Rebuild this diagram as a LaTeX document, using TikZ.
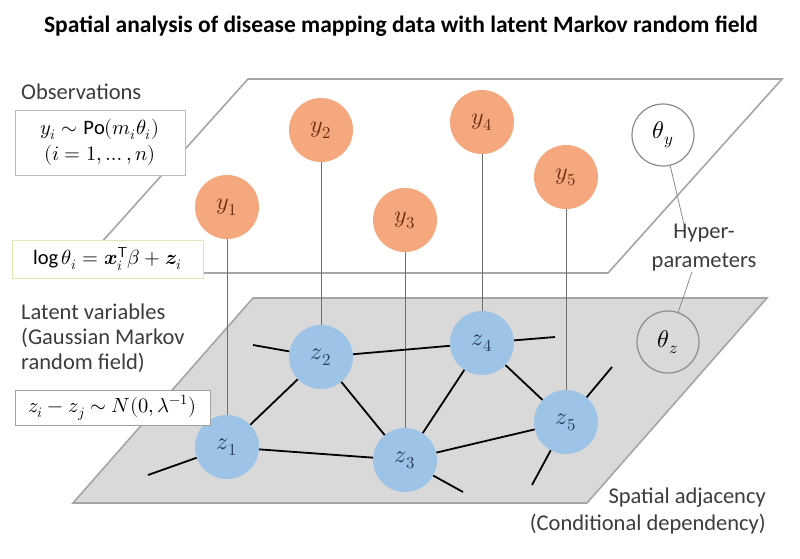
\documentclass[tikz,border=0pt]{standalone}
\usepackage{fontspec}
\usepackage{unicode-math}
\setmainfont{Carlito}
\setmathfont{Latin Modern Math}
\begin{document}
\begin{tikzpicture}[x=1pt, y=-1pt,
    ynode/.style={circle, fill=ycolor, minimum size=64pt, inner sep=0pt, text=ytext, font=\fontsize{24}{26}\selectfont},
    znode/.style={circle, fill=zcolor, minimum size=64pt, inner sep=0pt, text=ztext, font=\fontsize{24}{26}\selectfont},
    thetanode/.style={circle, draw=thetaline, line width=1.2pt, minimum size=62pt, inner sep=0pt, font=\fontsize{24}{26}\selectfont},
    labeltext/.style={inner sep=0pt, text=labelcolor, font=\fontsize{22.5}{25}\selectfont},
    formulabox/.style={draw, fill=white, line width=1pt, inner sep=0pt, align=center, font=\fontsize{20.5}{22}\selectfont},
    planeline/.style={draw=edgecolor, line width=1.6pt},
    linkline/.style={line width=1.8pt, black},
    dropline/.style={line width=1pt, dropcolor},
    hyperline/.style={line width=0.8pt, thetaline}
]
    % Define colors
    \definecolor{ycolor}{RGB}{245, 168, 125}
    \definecolor{zcolor}{RGB}{157, 195, 230}
    \definecolor{planecolor}{RGB}{217, 217, 217}
    \definecolor{edgecolor}{RGB}{165, 165, 165}
    \definecolor{thetaline}{RGB}{140, 140, 140}
    \definecolor{dropcolor}{RGB}{110, 110, 110}
    \definecolor{labelcolor}{RGB}{60, 60, 60}
    \definecolor{ytext}{RGB}{110, 45, 20}
    \definecolor{ztext}{RGB}{35, 60, 95}
    \definecolor{boxgray}{RGB}{160, 160, 160}
    \definecolor{boxyellow}{RGB}{230, 230, 180}

    % Picture size
    \useasboundingbox (0,0) rectangle (800,558);

    % Corners of the two planes
    \coordinate (topTL) at (248, 79);
    \coordinate (topTR) at (782, 79);
    \coordinate (topBR) at (608, 273);
    \coordinate (topBL) at (74, 273);
    \coordinate (botTL) at (253, 298);
    \coordinate (botTR) at (767, 298);
    \coordinate (botBR) at (587, 503);
    \coordinate (botBL) at (73, 503);

    % Observation plane and latent plane
    \filldraw[planeline, fill=white] (topTL) -- (topTR) -- (topBR) -- (topBL) -- cycle;
    \filldraw[planeline, fill=planecolor] (botTL) -- (botTR) -- (botBR) -- (botBL) -- cycle;

    % Title
    \node[font=\bfseries\fontsize{23.5}{26}\selectfont] (title) at (401, 26)
        {Spatial analysis of disease mapping data with latent Markov random field};

    % Observed nodes
    \node[ynode] (y1) at (227, 207) {$y_1$};
    \node[ynode] (y2) at (321, 130) {$y_2$};
    \node[ynode] (y3) at (405, 220) {$y_3$};
    \node[ynode] (y4) at (482, 122) {$y_4$};
    \node[ynode] (y5) at (566, 177) {$y_5$};

    % Latent nodes
    \node[znode] (z1) at (227, 447) {$z_1$};
    \node[znode] (z2) at (321, 357) {$z_2$};
    \node[znode] (z3) at (405, 460) {$z_3$};
    \node[znode] (z4) at (482, 343) {$z_4$};
    \node[znode] (z5) at (566, 422) {$z_5$};

    % Hyperparameters
    \node[thetanode, fill=white] (thetaY) at (663, 135) {$\theta_y$};
    \node[thetanode] (thetaZ) at (668, 342) {$\theta_z$};
    \node[labeltext, align=center, font=\fontsize{22.5}{29}\selectfont] (hyper) at (704, 248) {Hyper-\\parameters};

    % Loose ends of the adjacency graph
    \coordinate (z1out) at (148, 475);
    \coordinate (z2out) at (253, 345);
    \coordinate (z3out) at (463, 492);
    \coordinate (z4out) at (555, 337);
    \coordinate (z5outA) at (612, 367);
    \coordinate (z5outB) at (532, 485);

    % Drop lines from observations to latent variables
    \draw[dropline] (y1) -- (z1);
    \draw[dropline] (y2) -- (z2);
    \draw[dropline] (y3) -- (z3);
    \draw[dropline] (y4) -- (z4);
    \draw[dropline] (y5) -- (z5);

    % Spatial adjacency
    \draw[linkline] (z1) -- (z2);
    \draw[linkline] (z1) -- (z3);
    \draw[linkline] (z2) -- (z3);
    \draw[linkline] (z2) -- (z4);
    \draw[linkline] (z3) -- (z4);
    \draw[linkline] (z3) -- (z5);
    \draw[linkline] (z4) -- (z5);
    \draw[linkline] (z1) -- (z1out);
    \draw[linkline] (z2) -- (z2out);
    \draw[linkline] (z3) -- (z3out);
    \draw[linkline] (z4) -- (z4out);
    \draw[linkline] (z5) -- (z5outA);
    \draw[linkline] (z5) -- (z5outB);

    % Hyperparameter links
    \draw[hyperline] (thetaY) -- ([xshift=-20pt]hyper.north);
    \draw[hyperline] ([xshift=-12pt]hyper.south) -- (thetaZ);

    % Left labels and formulas
    \node[labeltext, anchor=west] (obs) at (21, 92) {Observations};
    \node[formulabox, draw=boxgray!70, minimum width=170pt, minimum height=65pt,
          font=\fontsize{20.5}{26}\selectfont] (obsbox) at (100, 142.5)
        {$y_i \sim \mathrm{Po}(m_i\theta_i)$\\$(i=1,\ldots,n)$};
    \node[formulabox, draw=boxyellow, minimum width=191pt, minimum height=38pt] (linkbox) at (107.5, 259)
        {$\log\theta_i = \symbfit{x}_i^{\mathsf{T}}\beta + \symbfit{z}_i$};
    \node[labeltext, anchor=north west, align=left] (latent) at (21, 304)
        {Latent variables\\(Gaussian Markov\\random field)};
    \node[formulabox, draw=boxgray, minimum width=195pt, minimum height=35pt] (gmrfbox) at (112.5, 407.5)
        {$z_i - z_j \sim N(0, \lambda^{-1})$};

    % Right label
    \node[labeltext, anchor=east, align=right, font=\fontsize{22.5}{27}\selectfont] (spatial) at (766, 511)
        {Spatial adjacency\\(Conditional dependency)};
\end{tikzpicture}
\end{document}
